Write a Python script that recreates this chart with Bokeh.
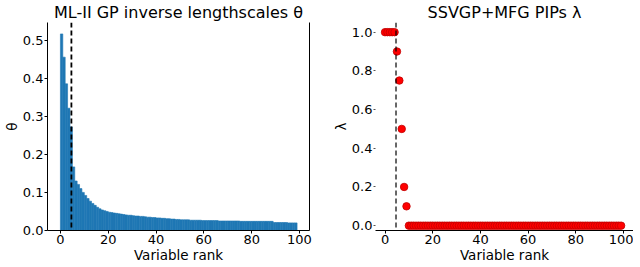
from bokeh.plotting import figure
from bokeh.layouts import row
from bokeh.models import Span, LinearAxis, FixedTicker, Range1d, ColumnDataSource, PrintfTickFormatter
from bokeh.embed import file_html
from bokeh.resources import INLINE

# ---- data ----
theta = [0.516, 0.455, 0.385, 0.321, 0.272, 0.167, 0.130, 0.121, 0.110, 0.100,
         0.092, 0.084, 0.077, 0.071, 0.066, 0.061, 0.057, 0.054, 0.052, 0.050,
         0.048, 0.047, 0.046, 0.045, 0.044, 0.043, 0.042, 0.041, 0.040, 0.040,
         0.039, 0.038, 0.038, 0.037, 0.037, 0.036, 0.035, 0.035, 0.034, 0.034,
         0.033, 0.033, 0.032, 0.032, 0.031, 0.031, 0.030, 0.030, 0.029, 0.029,
         0.028, 0.028, 0.028, 0.028, 0.027, 0.027, 0.027, 0.027, 0.027, 0.026,
         0.026, 0.026, 0.026, 0.026, 0.026, 0.026, 0.025, 0.025, 0.025, 0.025,
         0.025, 0.025, 0.025, 0.025, 0.025, 0.024, 0.024, 0.024, 0.024, 0.024,
         0.024, 0.024, 0.024, 0.024, 0.024, 0.024, 0.024, 0.024, 0.024, 0.021,
         0.021, 0.021, 0.021, 0.021, 0.021, 0.020, 0.020, 0.020, 0.020]
theta_rank = list(range(len(theta)))

pips = [1.0, 1.0, 1.0, 1.0, 1.0, 0.9, 0.75, 0.5, 0.2, 0.1,
        0.0, 0.0, 0.0, 0.0, 0.0, 0.0, 0.0, 0.0, 0.0, 0.0,
        0.0, 0.0, 0.0, 0.0, 0.0, 0.0, 0.0, 0.0, 0.0, 0.0,
        0.0, 0.0, 0.0, 0.0, 0.0, 0.0, 0.0, 0.0, 0.0, 0.0,
        0.0, 0.0, 0.0, 0.0, 0.0, 0.0, 0.0, 0.0, 0.0, 0.0,
        0.0, 0.0, 0.0, 0.0, 0.0, 0.0, 0.0, 0.0, 0.0, 0.0,
        0.0, 0.0, 0.0, 0.0, 0.0, 0.0, 0.0, 0.0, 0.0, 0.0,
        0.0, 0.0, 0.0, 0.0, 0.0, 0.0, 0.0, 0.0, 0.0, 0.0,
        0.0, 0.0, 0.0, 0.0, 0.0, 0.0, 0.0, 0.0, 0.0, 0.0,
        0.0, 0.0, 0.0, 0.0, 0.0, 0.0, 0.0, 0.0, 0.0, 0.0]
pip_rank = list(range(len(pips)))

cutoff = 4.6
x_ticks = [0, 20, 40, 60, 80, 100]
theta_ticks = [0.0, 0.1, 0.2, 0.3, 0.4, 0.5]
pip_ticks = [0.0, 0.2, 0.4, 0.6, 0.8, 1.0]

FONT = "DejaVu Sans"


def style_axes(p, tick_size="13px", label_size="13.5px"):
    for ax in p.xaxis + p.yaxis:
        ax.major_label_text_font = FONT
        ax.major_label_text_font_size = tick_size
        ax.major_label_text_color = "black"
        ax.axis_label_text_font = FONT
        ax.axis_label_text_font_size = label_size
        ax.axis_label_text_font_style = "normal"
        ax.axis_label_text_color = "black"
        ax.minor_tick_line_color = None
        ax.major_tick_out = 3
        ax.major_tick_in = 0
        ax.major_tick_line_color = "black"
        ax.axis_line_color = "black"
        ax.major_label_standoff = 1
        ax.axis_label_standoff = 0
    p.xgrid.visible = False
    p.ygrid.visible = False
    p.title.text_font = FONT
    p.title.text_font_size = "16px"
    p.title.text_font_style = "normal"
    p.title.text_color = "black"
    p.title.align = "center"
    p.title.standoff = 1


FH = 208

# ---- left: bars ----
p1 = figure(frame_width=262, frame_height=FH, output_backend="svg", toolbar_location=None,
            x_range=Range1d(-5.4, 104.2), y_range=Range1d(0, 0.546),
            title="ML-II GP inverse lengthscales θ",
            min_border_left=30, min_border_right=20, min_border_top=0, min_border_bottom=0)
src1 = ColumnDataSource(dict(x=[r + 0.5 for r in theta_rank], top=theta))
p1.vbar(x="x", top="top", width=1.0, source=src1, fill_color="#1f77b4",
        line_color="#1f77b4", line_width=0.6)
p1.add_layout(Span(location=cutoff, dimension="height", line_color="black",
                   line_width=1.8, line_dash="5 3"))
p1.xaxis.ticker = FixedTicker(ticks=x_ticks)
p1.yaxis.ticker = FixedTicker(ticks=theta_ticks)
p1.yaxis.formatter = PrintfTickFormatter(format="%.1f")
p1.xaxis.axis_label = "Variable rank"
p1.yaxis.axis_label = "θ"
p1.outline_line_color = None
right_spine = LinearAxis(ticker=FixedTicker(ticks=[]), major_tick_line_color=None,
                         minor_tick_line_color=None, major_label_text_font_size="0px",
                         axis_line_color="black")
p1.add_layout(right_spine, "right")
style_axes(p1)

# ---- right: PIPs ----
p2 = figure(frame_width=258, frame_height=FH, output_backend="svg", toolbar_location=None,
            x_range=Range1d(-4.0, 104.2), y_range=Range1d(-0.025, 1.05),
            title="SSVGP+MFG PIPs λ",
            min_border_left=38, min_border_right=0, min_border_top=0, min_border_bottom=0)
src2 = ColumnDataSource(dict(x=pip_rank, y=pips))
p2.add_layout(Span(location=cutoff, dimension="height", line_color="black",
                   line_width=1.2, line_dash="5 3"))
p2.scatter(x="x", y="y", source=src2, size=7.5, fill_color="red", line_color="#c00000",
           line_width=0.8)
p2.xaxis.ticker = FixedTicker(ticks=x_ticks)
p2.yaxis.ticker = FixedTicker(ticks=pip_ticks)
p2.yaxis.formatter = PrintfTickFormatter(format="%.1f")
p2.xaxis.axis_label = "Variable rank"
p2.yaxis.axis_label = "λ"
p2.outline_line_color = None
style_axes(p2)
p2.yaxis.axis_line_color = None
p2.yaxis.major_tick_out = 2
p2.yaxis.major_tick_line_color = "#555555"

layout = row(p1, p2)
open("out.html", "w").write(file_html(layout, INLINE))
